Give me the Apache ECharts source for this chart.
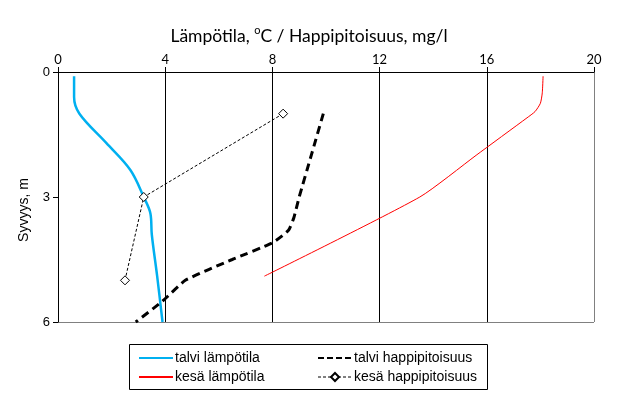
<!DOCTYPE html>
<html>
<head>
<meta charset="utf-8">
<script src="https://cdn.jsdelivr.net/npm/echarts@6/dist/echarts.min.js"></script>
<style>
html,body{margin:0;padding:0;background:#fff;}
#chart{width:618px;height:396px;}
</style>
</head>
<body>
<div id="chart"></div>
<script>
// x axis ticks (value) and y axis ticks (depth)
const xTicks = [0, 4, 8, 12, 16, 20];
const yTicks = [0, 3, 6];

// talvi lämpötila (winter temperature)
const winterTempDepth = [0.1, 0.6, 1.0, 1.7, 2.35, 3.0, 3.4, 3.9, 4.9, 6.0];
const winterTemp      = [0.6, 0.6, 0.8, 1.8, 2.7, 3.2, 3.45, 3.5, 3.7, 3.9];

// talvi happipitoisuus (winter oxygen)
const winterOxyDepth = [1.0, 2.0, 3.0, 3.5, 3.8, 4.1, 4.5, 5.0, 5.5, 6.0];
const winterOxy      = [9.9, 9.45, 9.0, 8.8, 8.6, 8.0, 6.5, 4.75, 3.9, 2.9];

// kesä lämpötila (summer temperature)
const summerTempDepth = [0.1, 0.5, 0.75, 0.95, 1.1, 2.0, 3.0, 4.9];
const summerTemp      = [18.1, 18.07, 18.0, 17.8, 17.5, 15.6, 13.5, 7.7];

// kesä happipitoisuus (summer oxygen)
const summerOxyDepth = [1, 3, 5];
const summerOxy      = [8.4, 3.2, 2.5];

const names = ['talvi lämpötila', 'talvi happipitoisuus', 'kesä lämpötila', 'kesä happipitoisuus'];

function pairs(xs, ds) { return xs.map((v, i) => [v, ds[i]]); }

const noSym = { opacity: 0 };
const legendText = { fontFamily: 'Liberation Sans', fontSize: 14, color: '#000', padding: [0, 0, 0, -3] };

const chart = echarts.init(document.getElementById('chart'));
chart.setOption({
  animation: false,
  backgroundColor: '#fff',
  title: {
    text: 'Lämpötila, {sup|o}C / Happipitoisuus, mg/l',
    left: 'center',
    top: 20,
    textStyle: {
      fontFamily: 'Lato', fontSize: 17.5, fontWeight: 'normal', color: '#000',
      lineHeight: 22,
      rich: { sup: { fontFamily: 'Lato', fontSize: 11, verticalAlign: 'top', lineHeight: 12, padding: [0, 0, 6, 0] } }
    }
  },
  grid: { left: 58, right: 24, top: 72, bottom: 74 },
  xAxis: {
    type: 'value', position: 'top', min: xTicks[0], max: xTicks[xTicks.length - 1], interval: 4,
    axisLine: { show: true, lineStyle: { color: '#000', width: 1 } },
    axisTick: { show: true, length: 5, lineStyle: { color: '#000' } },
    axisLabel: { color: '#000', fontFamily: 'Lato', fontSize: 13, margin: 6 },
    splitLine: { show: true, lineStyle: { color: ['#000', '#000', '#000', '#000', '#000', '#808080'], width: 1 } }
  },
  yAxis: {
    type: 'value', inverse: true, min: yTicks[0], max: yTicks[yTicks.length - 1], interval: 3,
    axisLine: { show: true, onZero: false, lineStyle: { color: '#000', width: 1 } },
    axisTick: { show: true, length: 5, lineStyle: { color: '#000' } },
    axisLabel: { color: '#000', fontFamily: 'Liberation Sans', fontSize: 13, margin: 8 },
    splitLine: { show: true, lineStyle: { color: ['rgba(0,0,0,0)', 'rgba(0,0,0,0)', '#808080'], width: 1 } }
  },
  legend: [
    {
      orient: 'vertical', left: 133, top: 346, itemGap: 5, itemWidth: 34, itemHeight: 10,
      data: [{ name: names[0], itemStyle: noSym }, { name: names[2], itemStyle: noSym }],
      textStyle: legendText
    },
    {
      orient: 'vertical', left: 312, top: 346, itemGap: 5, itemWidth: 34, itemHeight: 10,
      data: [{ name: names[1], itemStyle: noSym, lineStyle: { type: [6, 3] } }, { name: names[3], lineStyle: { width: 1, type: [3, 2] } }],
      textStyle: legendText
    }
  ],
  graphic: [
    { type: 'rect', shape: { x: 129.5, y: 344.5, width: 358, height: 45 }, style: { fill: 'none', stroke: '#000', lineWidth: 1 }, silent: true },
    { type: 'text', x: 24, y: 210, rotation: Math.PI / 2, style: { text: 'Syvyys, m', fontFamily: 'Liberation Sans', fontSize: 14, fill: '#000', align: 'center', verticalAlign: 'middle' } }
  ],
  series: [
    {
      name: names[0], type: 'line', data: pairs(winterTemp, winterTempDepth), smooth: 0.35,
      showSymbol: false, symbol: 'none', lineStyle: { color: '#00B0F0', width: 2.5 }, itemStyle: { color: '#00B0F0' }, z: 3
    },
    {
      name: names[1], type: 'line', data: pairs(winterOxy, winterOxyDepth), smooth: 0.15,
      showSymbol: false, symbol: 'none', lineStyle: { color: '#000', width: 3, type: [8, 5] }, itemStyle: { color: '#000' }, z: 3
    },
    {
      name: names[2], type: 'line', data: pairs(summerTemp, summerTempDepth), smooth: 0.2,
      showSymbol: false, symbol: 'none', lineStyle: { color: '#FF0000', width: 1 }, itemStyle: { color: '#FF0000' }, z: 3
    },
    {
      name: names[3], type: 'line', data: pairs(summerOxy, summerOxyDepth),
      symbol: 'diamond', symbolSize: 9, showSymbol: true,
      lineStyle: { color: '#000', width: 1, type: [3, 2] },
      itemStyle: { color: '#fff', borderColor: '#000', borderWidth: 1 }, z: 4
    }
  ]
});
</script>
</body>
</html>
